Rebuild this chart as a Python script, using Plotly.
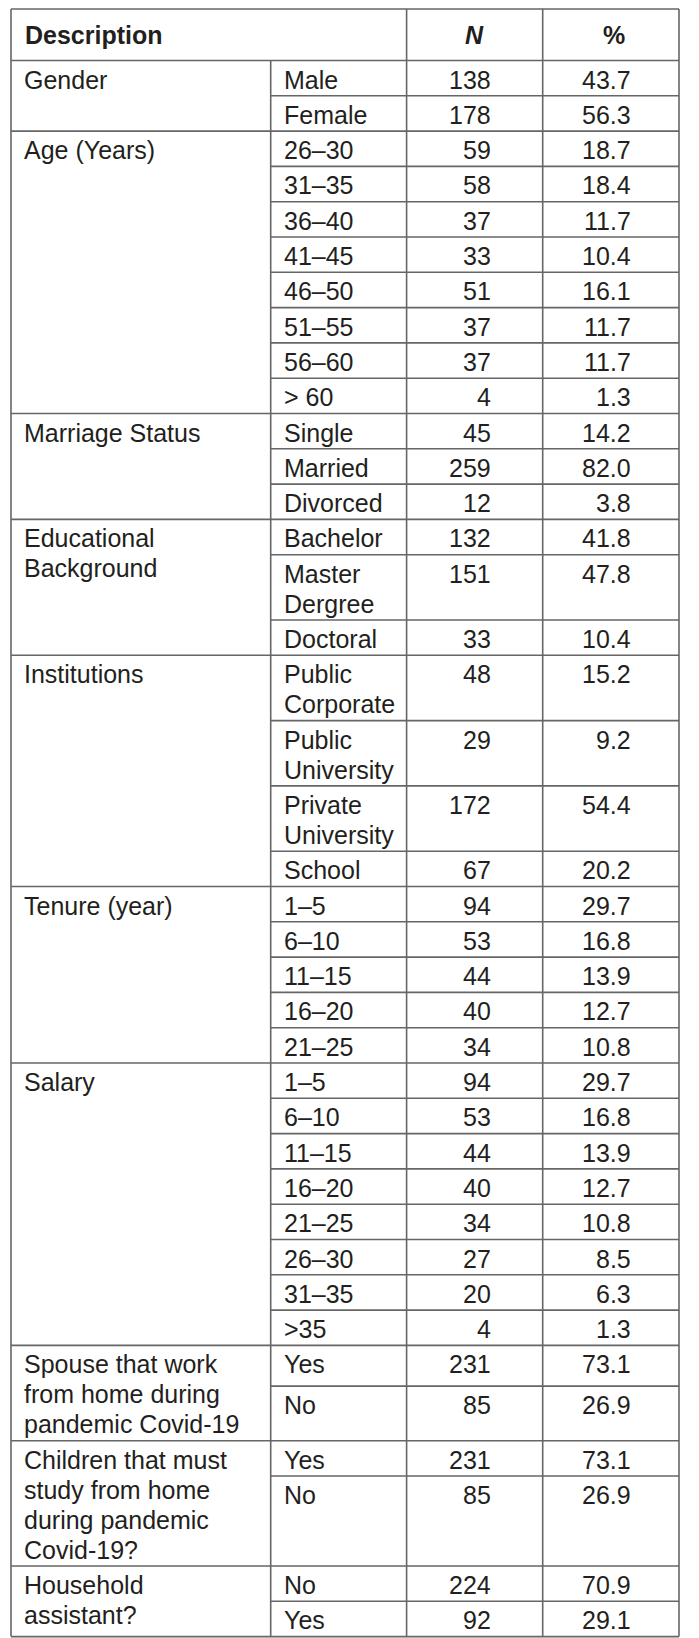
import plotly.graph_objects as go

# ---------------- data ----------------
groups = [
    "Gender",
    "Age (Years)",
    "Marriage Status",
    "Educational\nBackground",
    "Institutions",
    "Tenure (year)",
    "Salary",
    "Spouse that work\nfrom home during\npandemic Covid-19",
    "Children that must\nstudy from home\nduring pandemic\nCovid-19?",
    "Household\nassistant?",
]

gender_cats = ["Male", "Female"]
gender_n = [138, 178]
gender_pct = [43.7, 56.3]

age_cats = ["26–30", "31–35", "36–40", "41–45", "46–50", "51–55", "56–60", "> 60"]
age_n = [59, 58, 37, 33, 51, 37, 37, 4]
age_pct = [18.7, 18.4, 11.7, 10.4, 16.1, 11.7, 11.7, 1.3]

marriage_cats = ["Single", "Married", "Divorced"]
marriage_n = [45, 259, 12]
marriage_pct = [14.2, 82.0, 3.8]

edu_cats = ["Bachelor", "Master\nDergree", "Doctoral"]
edu_n = [132, 151, 33]
edu_pct = [41.8, 47.8, 10.4]

inst_cats = ["Public\nCorporate", "Public\nUniversity", "Private\nUniversity", "School"]
inst_n = [48, 29, 172, 67]
inst_pct = [15.2, 9.2, 54.4, 20.2]

tenure_cats = ["1–5", "6–10", "11–15", "16–20", "21–25"]
tenure_n = [94, 53, 44, 40, 34]
tenure_pct = [29.7, 16.8, 13.9, 12.7, 10.8]

salary_cats = ["1–5", "6–10", "11–15", "16–20", "21–25", "26–30", "31–35", ">35"]
salary_n = [94, 53, 44, 40, 34, 27, 20, 4]
salary_pct = [29.7, 16.8, 13.9, 12.7, 10.8, 8.5, 6.3, 1.3]

spouse_cats = ["Yes", "No"]
spouse_n = [231, 85]
spouse_pct = [73.1, 26.9]

children_cats = ["Yes", "No"]
children_n = [231, 85]
children_pct = [73.1, 26.9]

household_cats = ["No", "Yes"]
household_n = [224, 92]
household_pct = [70.9, 29.1]

header_labels = ["<b>Description</b>", "<b><i>N</i></b>", "<b>%</b>"]

sections = [
    (gender_cats, gender_n, gender_pct),
    (age_cats, age_n, age_pct),
    (marriage_cats, marriage_n, marriage_pct),
    (edu_cats, edu_n, edu_pct),
    (inst_cats, inst_n, inst_pct),
    (tenure_cats, tenure_n, tenure_pct),
    (salary_cats, salary_n, salary_pct),
    (spouse_cats, spouse_n, spouse_pct),
    (children_cats, children_n, children_pct),
    (household_cats, household_n, household_pct),
]

# ---------------- layout constants ----------------
W, H = 699, 1638
COLS = [11.0, 270.7, 406.6, 542.7, 679.0]
TOP = 9.0
HEADER_H = 51.5
LINE_H = 30.0
CELL_PAD = 5.3
TEXT_DY = 19.0
PAD_X = 11.0
NUM_SHIFT = [18.4, 21.7]
FONT = "Liberation Sans, Arial, Helvetica, sans-serif"
FSIZE = 25
TXT = "#231f20"
LINE_COLOR = "#666666"
LINE_W = 1.6
# extra spacing of the first sub-row of the "Spouse" block (as typeset in the source)
FIRST_ROW_EXTRA = {7: 5.4}

fig = go.Figure()
fig.add_trace(go.Scatter(x=[0, W], y=[0, H], mode="markers",
                         marker=dict(opacity=0), hoverinfo="skip", showlegend=False))

shapes = []
annotations = []


def hline(y, x0, x1):
    shapes.append(dict(type="line", xref="x", yref="y", x0=x0, x1=x1, y0=y, y1=y,
                       line=dict(color=LINE_COLOR, width=LINE_W)))


def vline(x, y0, y1):
    shapes.append(dict(type="line", xref="x", yref="y", x0=x, x1=x, y0=y0, y1=y1,
                       line=dict(color=LINE_COLOR, width=LINE_W)))


def text(x, y, s, anchor="left", size=FSIZE):
    annotations.append(dict(x=x, y=y, xref="x", yref="y", text=s, showarrow=False,
                            xanchor=anchor, yanchor="middle",
                            font=dict(family=FONT, size=size, color=TXT)))


# header
hline(TOP, COLS[0], COLS[-1])
header_y = TOP + HEADER_H / 2
text(COLS[0] + PAD_X + 1, header_y, header_labels[0])
text((COLS[2] + COLS[3]) / 2, header_y, header_labels[1], anchor="center")
text((COLS[3] + COLS[4]) / 2 + 3, header_y, header_labels[2], anchor="center")

y = TOP + HEADER_H
hline(y, COLS[0], COLS[-1])

for gi, (label, (cats, ns, pcts)) in enumerate(zip(groups, sections)):
    heights = [len(c.split("\n")) * LINE_H + CELL_PAD for c in cats]
    group_h = len(label.split("\n")) * LINE_H + CELL_PAD
    if gi in FIRST_ROW_EXTRA:
        heights[0] += FIRST_ROW_EXTRA[gi]
    if sum(heights) < group_h:
        heights[-1] += group_h - sum(heights)
    gtop = y
    for i, line in enumerate(label.split("\n")):
        text(COLS[0] + PAD_X, gtop + TEXT_DY + i * LINE_H, line)
    ry = gtop
    for k, (c, n, p, h) in enumerate(zip(cats, ns, pcts, heights)):
        for i, line in enumerate(c.split("\n")):
            text(COLS[1] + PAD_X, ry + TEXT_DY + i * LINE_H, line)
        text((COLS[2] + COLS[3]) / 2 + NUM_SHIFT[0], ry + TEXT_DY, f"{n}", anchor="right")
        text((COLS[3] + COLS[4]) / 2 + NUM_SHIFT[1], ry + TEXT_DY, f"{p:.1f}", anchor="right")
        ry += h
        if k < len(cats) - 1:
            hline(ry, COLS[1], COLS[-1])
    y = ry
    hline(y, COLS[0], COLS[-1])

bottom = y
vline(COLS[0], TOP, bottom)
vline(COLS[1], TOP + HEADER_H, bottom)
vline(COLS[2], TOP, bottom)
vline(COLS[3], TOP, bottom)
vline(COLS[4], TOP, bottom)

fig.update_layout(
    width=W, height=H,
    margin=dict(l=0, r=0, t=0, b=0),
    paper_bgcolor="white", plot_bgcolor="white",
    xaxis=dict(range=[0, W], visible=False, fixedrange=True),
    yaxis=dict(range=[H, 0], visible=False, fixedrange=True),
    shapes=shapes, annotations=annotations, showlegend=False,
)

fig.write_html(
    "out.html",
    config={"displayModeBar": False},
    post_script="document.body.style.margin='0';document.body.style.overflow='hidden';",
)
